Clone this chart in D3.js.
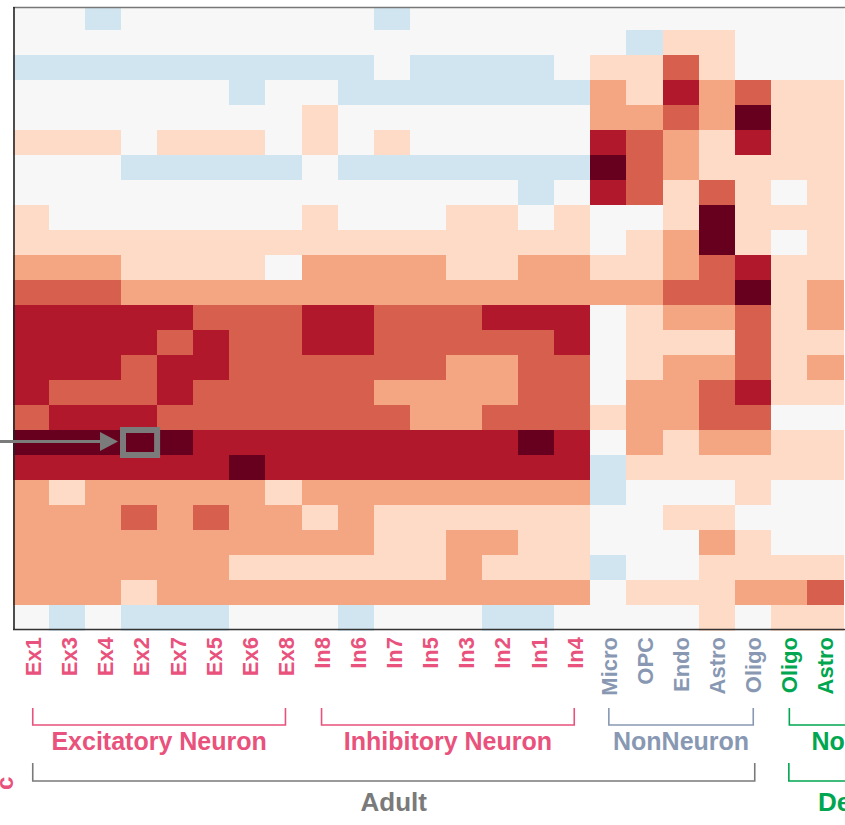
<!DOCTYPE html>
<html>
<head>
<meta charset="utf-8">
<script src="https://cdn.jsdelivr.net/npm/d3@7/dist/d3.min.js"></script>
<style>
  html, body { margin: 0; padding: 0; background: #fff; }
  svg { display: block; }
  text { font-family: "Liberation Sans", Arial, Helvetica, sans-serif; font-weight: bold; }
</style>
</head>
<body>
<svg id="chart" width="845" height="825"></svg>
<script>
// ---- data ----
const columns = ["Ex1","Ex3","Ex4","Ex2","Ex7","Ex5","Ex6","Ex8",
                 "In8","In6","In7","In5","In3","In2","In1","In4",
                 "Micro","OPC","Endo","Astro","Oligo",
                 "Oligo ","Astro "];
const columnGroup = ["exc","exc","exc","exc","exc","exc","exc","exc",
                     "inh","inh","inh","inh","inh","inh","inh","inh",
                     "non","non","non","non","non",
                     "dev","dev"];
// discrete enrichment levels: -1 (depleted) ... 0 (neutral) ... 5 (strongest)
const levels = [
  [0,0,-1,0,0,0,0,0, 0,0,-1,0,0,0,0,0, 0,0,0,0,0, 0,0],
  [0,0,0,0,0,0,0,0, 0,0,0,0,0,0,0,0, 0,-1,1,1,0, 0,0],
  [-1,-1,-1,-1,-1,-1,-1,-1, -1,-1,0,-1,-1,-1,-1,0, 1,1,3,1,0, 0,0],
  [0,0,0,0,0,0,-1,0, 0,-1,-1,-1,-1,-1,-1,-1, 2,1,4,2,3, 1,1],
  [0,0,0,0,0,0,0,0, 1,0,0,0,0,0,0,0, 2,2,3,2,5, 1,1],
  [1,1,1,0,1,1,1,0, 1,0,1,0,0,0,0,0, 4,3,2,1,4, 1,1],
  [0,0,0,-1,-1,-1,-1,-1, 0,-1,-1,-1,-1,-1,-1,-1, 5,3,2,1,1, 1,1],
  [0,0,0,0,0,0,0,0, 0,0,0,0,0,0,-1,0, 4,3,1,3,1, 0,1],
  [1,0,0,0,0,0,0,0, 1,0,0,0,1,1,0,1, 0,0,1,5,1, 1,1],
  [1,1,1,1,1,1,1,1, 1,1,1,1,1,1,1,1, 0,1,2,5,1, 0,1],
  [2,2,2,1,1,1,1,0, 2,2,2,2,1,1,2,2, 1,1,2,3,4, 1,1],
  [3,3,3,2,2,2,2,2, 2,2,2,2,2,2,2,2, 2,2,3,3,5, 1,2],
  [4,4,4,4,4,3,3,3, 4,4,3,3,3,4,4,4, 0,1,2,2,3, 1,2],
  [4,4,4,4,3,4,3,3, 4,4,3,3,3,3,3,4, 0,1,1,1,3, 1,1],
  [4,4,4,3,4,4,3,3, 3,3,3,3,2,2,3,3, 0,1,2,2,3, 1,2],
  [4,3,3,3,4,3,3,3, 3,3,2,2,2,2,3,3, 0,2,2,3,4, 1,1],
  [3,4,4,4,3,3,3,3, 3,3,3,2,2,3,3,3, 1,2,2,3,3, 0,0],
  [5,5,5,5,5,4,4,4, 4,4,4,4,4,4,5,4, 0,2,1,2,2, 1,1],
  [4,4,4,4,4,4,5,4, 4,4,4,4,4,4,4,4, -1,1,1,1,1, 1,1],
  [2,1,2,2,2,2,2,1, 2,2,2,2,2,2,2,2, -1,0,0,0,1, 0,0],
  [2,2,2,3,2,3,2,2, 1,2,1,1,1,1,1,1, 0,0,1,1,0, 0,0],
  [2,2,2,2,2,2,2,2, 2,2,1,1,2,2,1,1, 0,0,0,2,1, 0,0],
  [2,2,2,2,2,2,1,1, 1,1,1,1,2,1,1,1, -1,0,0,1,1, 1,1],
  [2,2,2,1,2,2,2,2, 2,2,2,2,2,2,2,2, 0,1,1,1,2, 2,3],
  [0,-1,0,-1,-1,-1,0,0, 0,-1,0,0,0,-1,-1,0, 0,0,0,1,0, 1,1]
];
const levelValues = [-1,0,1,2,3,4,5];
const levelColors = ["#d1e5f0","#f7f7f7","#fddbc7","#f4a582","#d6604d","#b2182b","#67001f"];
const highlight = { row: 17, col: "Ex2" };
// groups: [label, firstCol, lastCol (may extend beyond visible), colorKey]
const subGroups = [
  ["Excitatory Neuron", 0, 7, "exc"],
  ["Inhibitory Neuron", 8, 15, "inh"],
  ["NonNeuron", 16, 20, "non"],
  ["NonNeuron", 21, 26, "dev"]
];
const superGroups = [
  ["Adult", 0, 20, "adult"],
  ["Developing", 21, 26.5, "dev"]
];
const groupColors = { exc: "#e8527c", inh: "#e8527c", non: "#8898b3", dev: "#00a650", adult: "#7a7a7a" };

// ---- chart ----
const svg = d3.select("#chart");
const rows = d3.range(levels.length);
const colW = 36.1, x0 = 12.7;
const x = d3.scaleBand().domain(columns).range([x0, x0 + colW * columns.length]).padding(0);
const y = d3.scaleBand().domain(rows).range([5, 630]).padding(0);
const color = d3.scaleOrdinal().domain(levelValues).range(levelColors);
const colCenter = i => x0 + colW * i + colW / 2;

const cells = [];
levels.forEach((r, ri) => r.forEach((v, ci) => cells.push({ row: ri, col: columns[ci], v })));

svg.append("g").attr("shape-rendering", "crispEdges")
  .selectAll("rect").data(cells).join("rect")
  .attr("x", d => x(d.col))
  .attr("y", d => y(d.row))
  .attr("width", x.bandwidth() + 0.5)
  .attr("height", y.bandwidth() + 0.5)
  .attr("fill", d => color(d.v));

// top clip + borders
svg.append("rect").attr("x", 0).attr("y", 0).attr("width", 845).attr("height", 7).attr("fill", "#fff");
svg.append("line").attr("x1", 13).attr("x2", 845).attr("y1", 7.5).attr("y2", 7.5)
  .attr("stroke", "#777").attr("stroke-width", 1.5);
svg.append("line").attr("x1", 14).attr("x2", 14).attr("y1", 7).attr("y2", 630)
  .attr("stroke", "#222").attr("stroke-width", 1.6);
svg.append("line").attr("x1", 13).attr("x2", 845).attr("y1", 629.5).attr("y2", 629.5)
  .attr("stroke", "#333").attr("stroke-width", 1.5);

// highlight box + arrow
const hx = x(highlight.col), hy = y(highlight.row);
svg.append("rect")
  .attr("x", hx + 2).attr("y", hy)
  .attr("width", x.bandwidth() - 2).attr("height", y.bandwidth())
  .attr("fill", "none").attr("stroke", "#7b7b7b").attr("stroke-width", 6);
const ay = hy + y.bandwidth() / 2 - 1;
svg.append("line").attr("x1", 0).attr("x2", hx - 18).attr("y1", ay).attr("y2", ay)
  .attr("stroke", "#7b7b7b").attr("stroke-width", 3);
svg.append("path")
  .attr("d", `M${hx - 21},${ay - 9.5} L${hx - 3},${ay} L${hx - 21},${ay + 9.5} Z`)
  .attr("fill", "#7b7b7b");

// column labels
svg.append("g").selectAll("text").data(columns).join("text")
  .attr("transform", (d, i) => `translate(${colCenter(i) + (columnGroup[i] === "exc" || columnGroup[i] === "inh" ? 2.5 : 0.5)},637) rotate(-90)`)
  .attr("text-anchor", "end")
  .attr("dy", "0.36em")
  .attr("font-size", 22)
  .attr("fill", (d, i) => groupColors[columnGroup[i]])
  .text(d => d.trim());

// brackets
function bracket(g, a, b, top, bot, labelY, fontSize, key, label, shift) {
  const xa = colCenter(a) + shift, xb = colCenter(b) + shift;
  g.append("path")
    .attr("d", `M${xa},${top} V${bot} H${xb} V${top}`)
    .attr("fill", "none").attr("stroke", groupColors[key]).attr("stroke-width", 1.6);
  g.append("text")
    .attr("x", (xa + xb) / 2).attr("y", labelY)
    .attr("text-anchor", "middle")
    .attr("font-size", fontSize)
    .attr("fill", groupColors[key])
    .text(label);
}
const bg = svg.append("g");
subGroups.forEach(([label, a, b, key]) =>
  bracket(bg, a, b, 708, 725, 750, 25, key, label, (key === "exc" || key === "inh") ? 2 : 0.5));
superGroups.forEach(([label, a, b, key]) =>
  bracket(bg, a, b, 763, 781, 811, 26, key, label, key === "adult" ? 2 : 0));

// fragments of neighbouring panel on the left edge
svg.append("text")
  .attr("transform", "translate(13,790) rotate(-90)")
  .attr("font-size", 24).attr("fill", "#e8527c").text("c");
</script>
</body>
</html>
